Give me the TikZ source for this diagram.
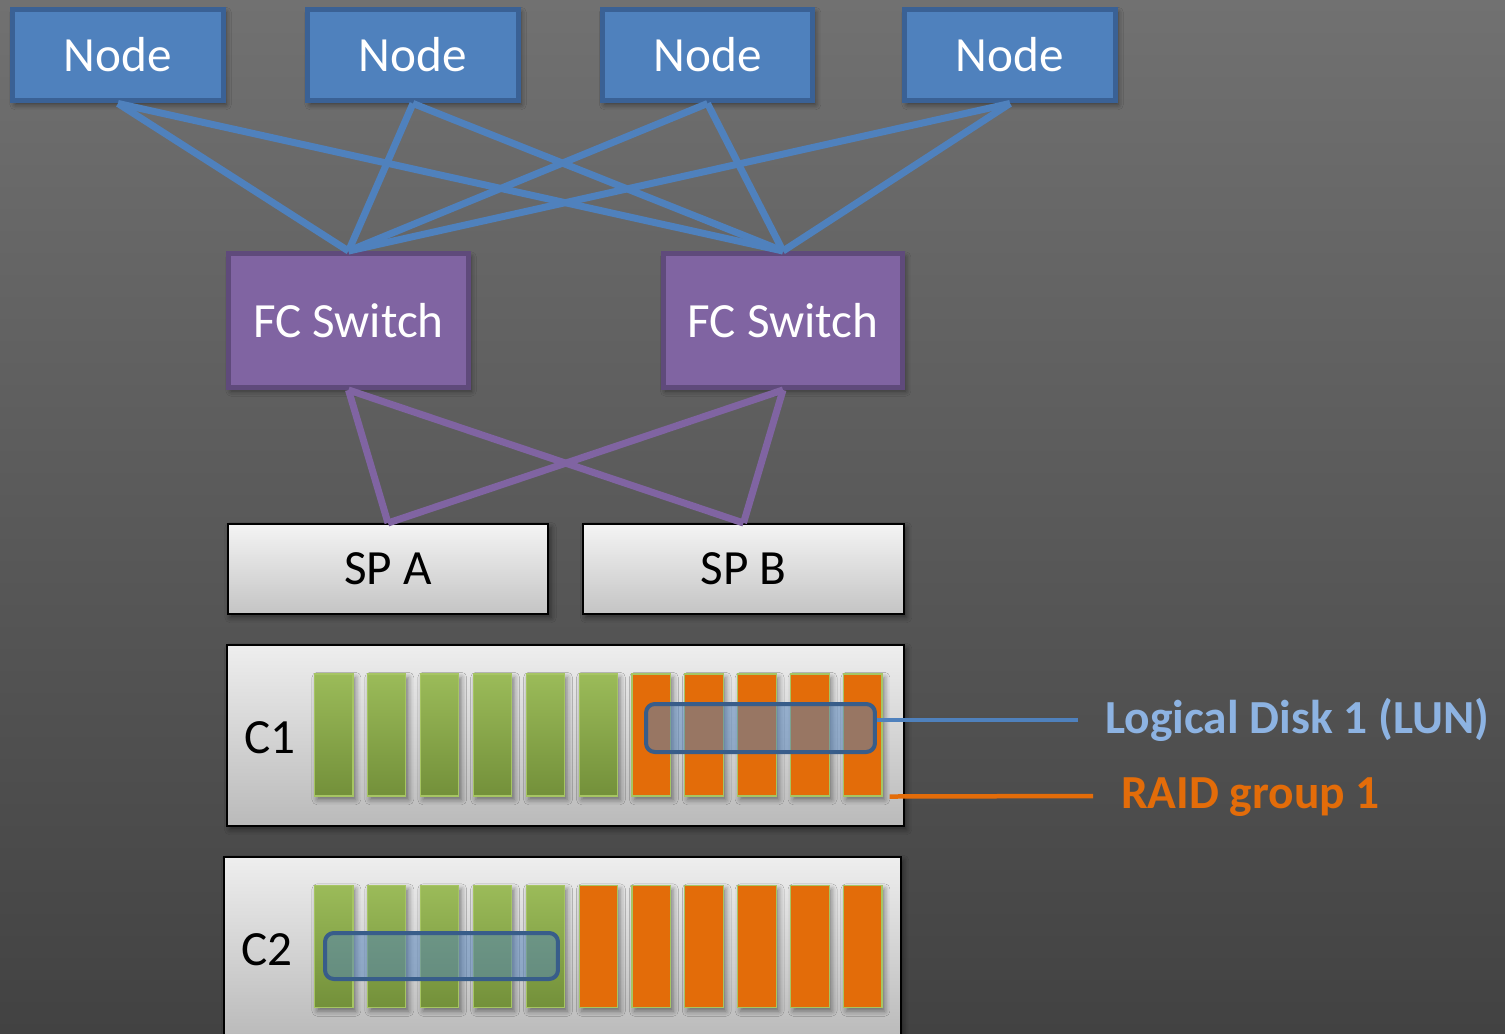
\documentclass[tikz,border=0pt]{standalone}
\usepackage{fontspec}
\setmainfont{Carlito}
\usetikzlibrary{
  calc,
  positioning,
  shadows.blur
}
\definecolor{bgtop}{HTML}{717171}
\definecolor{bgbot}{HTML}{424242}
\definecolor{hostblue}{HTML}{4F81BD}
\definecolor{hostedge}{HTML}{3A6195}
\definecolor{fcpurple}{HTML}{8064A2}
\definecolor{fcedge}{HTML}{5F4A7B}
\definecolor{sptop}{HTML}{F4F4F4}
\definecolor{spbot}{HTML}{C4C4C4}
\definecolor{encltop}{HTML}{EEEEEE}
\definecolor{enclbot}{HTML}{BABABA}
\definecolor{disktop}{HTML}{9BBB59}
\definecolor{diskbot}{HTML}{73903A}
\definecolor{diskedge}{HTML}{A6C563}
\definecolor{raidorange}{HTML}{E36C09}
\definecolor{lunedge}{HTML}{385D8A}
\definecolor{lunlabel}{HTML}{8DB3E2}

\begin{document}
\begin{tikzpicture}[
  x=0.02cm, y=-0.02cm,
  every node/.style={font=\fontsize{28}{32}\selectfont},
  softshadow/.style={blur shadow={shadow xshift=1.5pt, shadow yshift=-2pt, shadow blur radius=3pt, shadow opacity=45}},
  hostbox/.style={draw=hostedge, fill=hostblue, line width=0.1cm, text=white,
    minimum width=4.22cm, minimum height=1.84cm, inner sep=0pt, softshadow},
  fcbox/.style={draw=fcedge, fill=fcpurple, line width=0.1cm, text=white,
    minimum width=4.8cm, minimum height=2.68cm, inner sep=0pt, softshadow},
  spbox/.style={draw=black, line width=0.04cm, top color=sptop, bottom color=spbot,
    minimum width=6.42cm, minimum height=1.8cm, inner sep=0pt, softshadow},
  enclosure/.style={draw=black, line width=0.04cm, top color=encltop, bottom color=enclbot,
    minimum width=13.54cm, minimum height=3.62cm, inner sep=0pt, softshadow},
  disk/.style={draw=diskedge, line width=0.6pt, minimum width=0.768cm,
    minimum height=2.44cm, inner sep=0pt, softshadow},
  greendisk/.style={disk, top color=disktop, bottom color=diskbot},
  orangedisk/.style={disk, fill=raidorange},
  lunbox/.style={draw=lunedge, line width=0.08cm, fill=hostblue, fill opacity=0.5,
    draw opacity=1, rounded corners=5pt, inner sep=0pt},
  labeltext/.style={anchor=base west, font=\fontsize{27}{31}\selectfont\bfseries},
  sanlink/.style={hostblue, line width=0.14cm},
  splink/.style={fcpurple, line width=0.14cm},
]

\useasboundingbox (0,0) rectangle (1505,1034);
\clip (0,0) rectangle (1505,1034);

% ------------------------------------------
% backdrop
% ------------------------------------------
\shade[top color=bgtop, bottom color=bgbot] (0,0) rectangle (1505,1034);

% ------------------------------------------
% hosts
% ------------------------------------------
\node[hostbox] (host1) at (118,55) {Node};
\node[hostbox] (host2) at (413,55) {Node};
\node[hostbox] (host3) at (707.5,55) {Node};
\node[hostbox] (host4) at (1010,55) {Node};

% ------------------------------------------
% fabric switches
% ------------------------------------------
\node[fcbox] (fc1) at (348.5,320.5) {FC Switch};
\node[fcbox] (fc2) at (783,320.5) {FC Switch};

% ------------------------------------------
% storage processors
% ------------------------------------------
\node[spbox] (spa) at (388,569) {SP A};
\node[spbox] (spb) at (743.5,569) {SP B};

% ------------------------------------------
% links
% ------------------------------------------
\foreach \h in {1,...,4} {
  \draw[sanlink] (host\h.south) -- (fc1.north);
  \draw[sanlink] (host\h.south) -- (fc2.north);
}
\foreach \f in {1,2} {
  \draw[splink] (fc\f.south) -- (spa.north);
  \draw[splink] (fc\f.south) -- (spb.north);
}

% ------------------------------------------
% disk enclosures
% ------------------------------------------
\node[enclosure] (c1) at (565.5,735.5) {};
\node[enclosure] (c2) at (562.5,947.5) {};
\node (c1lbl) at (270,738) {C1};
\node (c2lbl) at (267,950) {C2};

% C1: 6 free disks, 5 disks in the RAID group
\foreach \i in {0,...,5}
  \node[greendisk] (c1d\i) at (333.8+52.9*\i,735) {};
\foreach \i in {6,...,10}
  \node[orangedisk] (c1d\i) at (333.8+52.9*\i,735) {};

% C2: 5 free disks, 6 disks in the RAID group
\foreach \i in {0,...,4}
  \node[greendisk] (c2d\i) at (333.8+52.9*\i,946.5) {};
\foreach \i in {5,...,10}
  \node[orangedisk] (c2d\i) at (333.8+52.9*\i,946.5) {};

% LUNs
\node[lunbox, minimum width=4.58cm, minimum height=0.96cm] (lun1) at (760.5,728) {};
\node[lunbox, minimum width=4.66cm, minimum height=0.92cm] (lun2) at (441.5,956) {};

% ------------------------------------------
% callouts
% ------------------------------------------
\coordinate (lunend) at (1078,720);
\draw[hostblue, line width=0.09cm] (lun1.east |- lunend) -- (lunend);
\node[labeltext, text=lunlabel] (lunlbl) at (1099,733) {Logical Disk 1 (LUN)};

\coordinate (raidend) at (1093,796);
\draw[raidorange, line width=0.09cm] ($(c1d10.south east)+(7,0)$) -- (raidend);
\node[labeltext, text=raidorange] (raidlbl) at (1115,808) {RAID group 1};

\end{tikzpicture}
\end{document}
